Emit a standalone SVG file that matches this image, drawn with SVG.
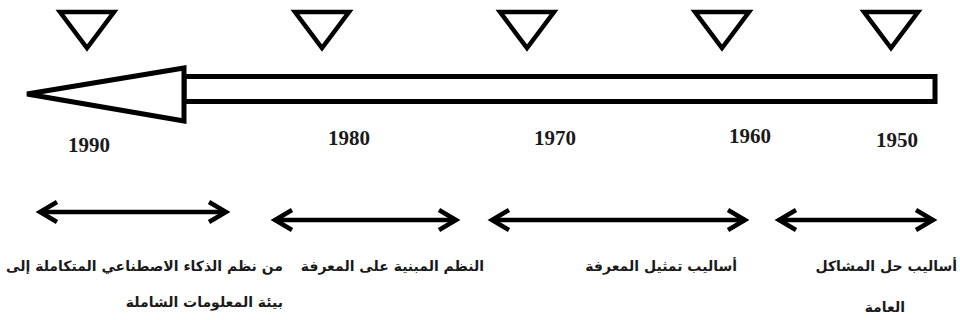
<svg xmlns="http://www.w3.org/2000/svg" width="960" height="320" viewBox="0 0 960 320">
<style>
.tri{fill:none;stroke:#000;stroke-width:4.5;stroke-linejoin:miter}
.bar{fill:#fff;stroke:#000;stroke-width:5}
.yr{font-family:"Liberation Serif","Times New Roman",serif;font-weight:bold;font-size:21px;fill:#1a1a1a;text-anchor:middle}
.lbl{font-family:"DejaVu Sans",sans-serif;font-weight:bold;font-size:14px;fill:#1a1a1a;text-anchor:end}
.rng{stroke:#000;stroke-width:4.5;fill:none;marker-start:url(#chev);marker-end:url(#chev)}
</style>
<defs>
<marker id="chev" markerUnits="userSpaceOnUse" markerWidth="26" markerHeight="28" refX="21" refY="14" orient="auto-start-reverse" overflow="visible">
<path d="M4,4 L21,14 L4,24" fill="none" stroke="#000" stroke-width="4.5" stroke-linejoin="miter"/>
</marker>
</defs>
<rect width="960" height="320" fill="#fff"/>
<g id="timeline">
<rect class="bar" x="184" y="76.5" width="751" height="25"/>
<polygon class="bar" stroke-width="4.5" points="27,94 184,68 184,121"/>
</g>
<g id="m1990"><polygon class="tri" points="60,12 114,12 87,48"/><text class="yr" x="89" y="152">1990</text></g>
<g id="m1980"><polygon class="tri" points="295,12 349,12 322,48"/><text class="yr" x="349" y="145">1980</text></g>
<g id="m1970"><polygon class="tri" points="500,12 554,12 527,48"/><text class="yr" x="555" y="145">1970</text></g>
<g id="m1960"><polygon class="tri" points="695,12 749,12 722,48"/><text class="yr" x="750" y="143">1960</text></g>
<g id="m1950"><polygon class="tri" points="864,12 918,12 891,48"/><text class="yr" x="897" y="147">1950</text></g>
<g id="connectors">
<line class="rng" x1="40" y1="212" x2="226" y2="212"/>
<line class="rng" x1="275" y1="220" x2="456" y2="220"/>
<line class="rng" x1="492" y1="220" x2="745" y2="220"/>
<line class="rng" x1="779" y1="220" x2="933" y2="220"/>
</g>
<g id="p1990">
<text class="lbl" x="283" y="271">من نظم الذكاء الاصطناعي المتكاملة إلى</text>
<text class="lbl" x="283" y="307">بيئة المعلومات الشاملة</text>
</g>
<g id="p1980"><text class="lbl" x="484" y="271">النظم المبنية على المعرفة</text></g>
<g id="p1970"><text class="lbl" x="737" y="271">أساليب تمثيل المعرفة</text></g>
<g id="p1960">
<text class="lbl" x="957" y="271">أساليب حل المشاكل</text>
<text class="lbl" x="905" y="312">العامة</text>
</g>
</svg>
